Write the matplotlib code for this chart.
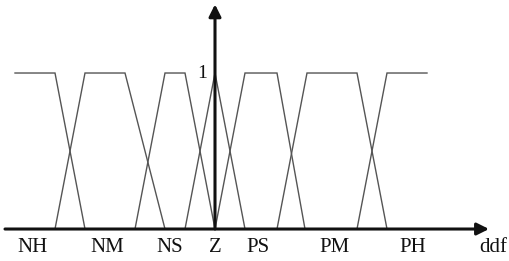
import matplotlib
matplotlib.use("Agg")
import matplotlib.pyplot as plt

# membership functions (breakpoints on ddf axis, Z at 0)
names = ["NH", "NM", "NS", "Z", "PS", "PM", "PH"]
mf_x = [
    [-20.0, -16.0, -13.0],
    [-16.0, -13.0, -9.0, -5.0],
    [-8.0, -5.0, -3.0, 0.0],
    [-3.0, 0.0, 3.0],
    [0.0, 3.0, 6.2, 9.0],
    [6.2, 9.2, 14.2, 17.2],
    [14.2, 17.2, 21.2],
]
mf_y = [
    [1, 1, 0],
    [0, 1, 1, 0],
    [0, 1, 1, 0],
    [0, 1, 0],
    [0, 1, 1, 0],
    [0, 1, 1, 0],
    [0, 1, 1],
]
label_x = [-18.2, -10.8, -4.5, 0.0, 4.3, 12.0, 19.8]

INK = "#111111"
LINE = "#555555"
FONT = "Liberation Serif"

fig = plt.figure(figsize=(5.09, 2.61), dpi=100, facecolor="white")
ax = fig.add_axes([0, 0, 1, 1])
ax.set_xlim(-21.5, 29.4)
ax.set_ylim(-0.205, 1.468)
ax.axis("off")

for xs, ys in zip(mf_x, mf_y):
    ax.plot(xs, ys, color=LINE, lw=1.0, solid_joinstyle="miter")

# axes with arrows
ax.annotate("", xy=(27.4, 0), xytext=(-21.0, 0),
            arrowprops=dict(arrowstyle="-|>", color=INK, lw=2.2,
                            mutation_scale=18, shrinkA=0, shrinkB=0))
ax.annotate("", xy=(0, 1.44), xytext=(0, 0),
            arrowprops=dict(arrowstyle="-|>", color=INK, lw=2.2,
                            mutation_scale=18, shrinkA=0, shrinkB=0))

for n, lx in zip(names, label_x):
    ax.text(lx, -0.055, n, ha="center", va="top", fontsize=15,
            family=FONT, color=INK)
ax.text(27.8, -0.055, "ddf", ha="center", va="top", fontsize=15,
        family=FONT, color=INK)
ax.text(-1.3, 1.0, "1", ha="center", va="center", fontsize=14,
        family=FONT, color=INK)

fig.savefig("out.png", dpi=100, facecolor="white")
